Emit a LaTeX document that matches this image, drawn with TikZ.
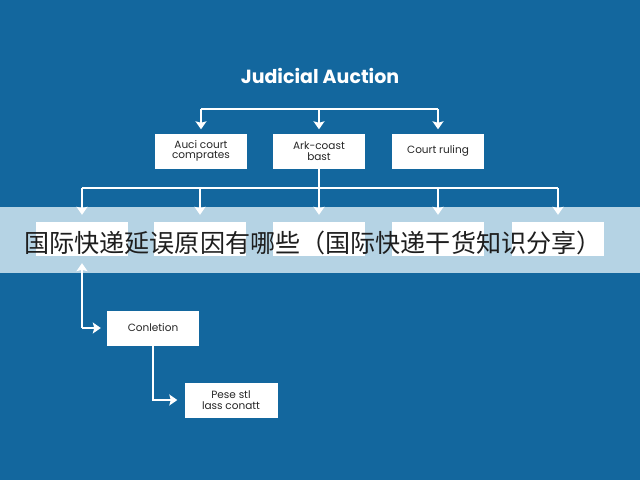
\documentclass[tikz,border=0pt]{standalone}
\usepackage{fontspec}
\setmainfont{Poppins}
\newfontfamily\cjk{Noto Sans CJK SC}
\usetikzlibrary{arrows.meta}
\definecolor{bgblue}{HTML}{13679E}
\definecolor{bandblue}{HTML}{B5D3E4}
\definecolor{inkgray}{HTML}{1E1E1E}
\tikzset{
    box/.style={draw=none, fill=white, minimum width=92pt, minimum height=35pt,
        align=center, font=\fontsize{10.5}{10.5}\selectfont, text=black!85},
    wire/.style={draw=white, line width=1.6pt},
    arrow/.style={wire, -{Stealth[length=8pt,width=11pt,inset=1.5pt]}}
}
\begin{document}
\begin{tikzpicture}[x=1pt,y=-1pt]
    %% background
    \fill [bgblue] (0,0) rectangle (640,480);
    \useasboundingbox (0,0) rectangle (640,480);
    %% title
    \node (title) at (320,76) {\fontsize{19}{20}\selectfont\bfseries\color{white}Judicial Auction};
    %% second row
    \node [box] (a1) at (201,151) {Auci court\\comprates};
    \node [box] (a2) at (319,151) {Ark-coast\\bast};
    \node [box] (a3) at (438,151) {Court ruling};
    %% band and third row
    \fill [bandblue] (0,207) rectangle (640,273);
    \node [box, minimum height=34pt] (c1) at (82,239) {};
    \node [box, minimum height=34pt] (c2) at (200,239) {};
    \node [box, minimum height=34pt] (c3) at (319,239) {};
    \node [box, minimum height=34pt] (c4) at (438,239) {};
    \node [box, minimum height=34pt] (c5) at (558,239) {};
    %% lower boxes
    \node [box] (d1) at (153,328) {Conletion};
    \node [box, minimum width=93pt] (e1) at (231,400) {Pese stl\\lass conatt};

    %% junctions
    \coordinate (t1) at (201,109);
    \coordinate (t2) at (319,109);
    \coordinate (t3) at (438,109);
    \coordinate (s1) at (82,188);
    \coordinate (s2) at (200,188);
    \coordinate (s3) at (319,188);
    \coordinate (s4) at (438,188);
    \coordinate (s5) at (558,188);
    \coordinate (k1) at (82,328);

    %% edges
    \draw [wire] (t1) -- (t3);
    \draw [arrow, shorten >=4pt] (t1) -- (a1);
    \draw [arrow, shorten >=4pt] (t2) -- (a2);
    \draw [arrow, shorten >=4pt] (t3) -- (a3);
    \draw [wire] (a2) -- (s3);
    \draw [wire] (s1) -- (s5);
    \draw [arrow, shorten >=7pt] (s1) -- (c1);
    \draw [arrow, shorten >=7pt] (s2) -- (c2);
    \draw [arrow, shorten >=7pt] (s3) -- (c3);
    \draw [arrow, shorten >=7pt] (s4) -- (c4);
    \draw [arrow, shorten >=7pt] (s5) -- (c5);
    \draw [arrow, shorten >=7pt] (k1) -- (c1);
    \draw [arrow, shorten >=6pt] (k1) -- (d1);
    \draw [arrow, shorten >=7pt] (d1.south) |- (e1.west);

    %% caption over the band
    \node [text=inkgray] (cap) at (313,243) {\cjk\fontsize{25.1}{27}\selectfont 国际快递延误原因有哪些（国际快递干货知识分享）};
\end{tikzpicture}
\end{document}
